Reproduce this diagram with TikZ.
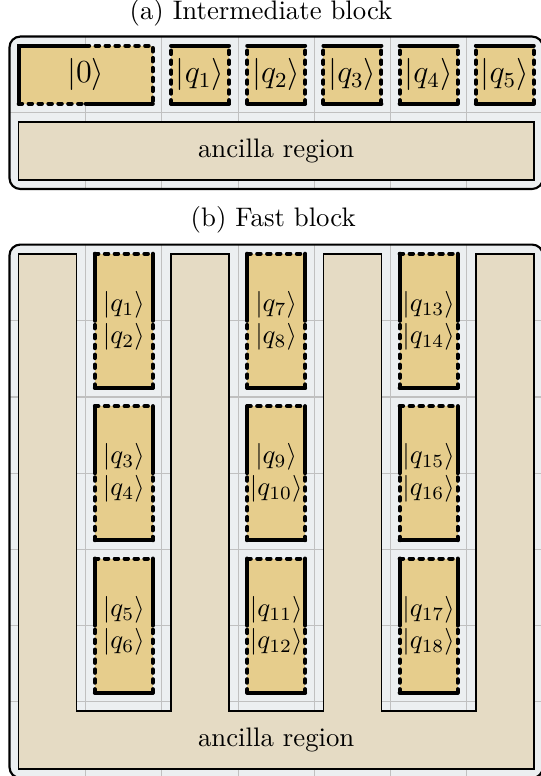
\documentclass[tikz,border=0pt]{standalone}
\usetikzlibrary{arrows.meta}

\definecolor{patchbg}{RGB}{236,239,241}
\definecolor{gridgray}{RGB}{192,192,192}
\definecolor{datafill}{RGB}{230,205,140}
\definecolor{ancfill}{RGB}{229,219,196}

\tikzset{
    blockframe/.style={draw=black,thick,rounded corners=4pt},
    gridline/.style={gridgray,thin},
    xedge/.style={line width=1.5pt,line cap=round},
    zedge/.style={line width=1.5pt,line cap=round,dash pattern=on 1.3pt off 2.4pt},
    ancregion/.style={draw=black,semithick,fill=ancfill},
}

\begin{document}
\begin{tikzpicture}
    
    \useasboundingbox (-0.125,0.026) rectangle (6.962,10.21);
    
    % (a) intermediate block
    \node (titleA) at (3.3,10.04) {(a) Intermediate block};
    
    \fill[patchbg,rounded corners=4pt] (0,7.73) rectangle (7,9.73);
    
    % draw grid
    \foreach \x in {1,...,6}
        \draw[gridline] (\x,7.73) -- (\x,9.73);
    \draw[gridline] (0,8.73) -- (7,8.73);
    
    % ancilla row
    \node[ancregion,minimum width=6.76cm,minimum height=0.76cm,inner sep=0pt] (ancA) at (3.5,8.23) {ancilla region};
    
    % |0> patch over two cells
    \fill[datafill] (0.12,8.85) rectangle (1.88,9.61);
    \draw[xedge] (1,9.61) -- (0.12,9.61) -- (0.12,8.85);
    \draw[xedge] (1,8.85) -- (1.88,8.85);
    \draw[zedge] (1,9.61) -- (1.88,9.61) -- (1.88,8.85);
    \draw[zedge] (0.12,8.85) -- (1,8.85);
    \node (zero) at (1,9.23) {\large$|0\rangle$};
    
    % data qubits
    \foreach \i in {1,...,5} {
        \fill[datafill] (\i+1.12,8.85) rectangle (\i+1.88,9.61);
        \draw[xedge] (\i+1.12,9.61) -- (\i+1.88,9.61);
        \draw[xedge] (\i+1.12,8.85) -- (\i+1.88,8.85);
        \draw[zedge] (\i+1.12,8.85) -- (\i+1.12,9.61);
        \draw[zedge] (\i+1.88,8.85) -- (\i+1.88,9.61);
        \node (qa\i) at (\i+1.5,9.23) {\large$|q_{\i}\rangle$};
    }
    
    \draw[blockframe] (0,7.73) rectangle (7,9.73);
    
    % (b) fast block
    \node (titleB) at (3.46,7.32) {(b) Fast block};
    
    \fill[patchbg,rounded corners=4pt] (0,0) rectangle (7,7);
    
    % draw grid
    \foreach \x in {1,...,6} {
        \draw[gridline] (\x,0) -- (\x,7);
        \draw[gridline] (0,\x) -- (7,\x);
    }
    
    % ancilla comb
    \draw[ancregion] (0.12,0.12) -- (6.88,0.12) -- (6.88,6.88) -- (6.12,6.88)
        -- (6.12,0.88) -- (4.88,0.88) -- (4.88,6.88) -- (4.12,6.88)
        -- (4.12,0.88) -- (2.88,0.88) -- (2.88,6.88) -- (2.12,6.88)
        -- (2.12,0.88) -- (0.88,0.88) -- (0.88,6.88) -- (0.12,6.88) -- cycle;
    \node (ancB) at (3.5,0.5) {ancilla region};
    
    % data qubits, two per patch
    \foreach \c in {0,1,2}
    \foreach \r in {0,1,2} {
        \pgfmathtruncatemacro{\qa}{6*\c+2*\r+1}
        \pgfmathtruncatemacro{\qb}{6*\c+2*\r+2}
        \begin{scope}[shift={({2*\c},{-2*\r})}]
            \fill[datafill] (1.12,5.12) rectangle (1.88,6.88);
            \draw[zedge] (1.12,6.88) -- (1.88,6.88);
            \draw[zedge] (1.12,5.12) -- (1.12,6);
            \draw[zedge] (1.88,5.12) -- (1.88,6);
            \draw[xedge] (1.12,6.88) -- (1.12,6);
            \draw[xedge] (1.88,6.88) -- (1.88,6);
            \draw[xedge] (1.12,5.12) -- (1.88,5.12);
            \node[align=center] (qb\qa) at (1.5,6) {$|q_{\qa}\rangle$\\$|q_{\qb}\rangle$};
        \end{scope}
    }
    
    \draw[blockframe] (0,0) rectangle (7,7);
    
\end{tikzpicture}
\end{document}
